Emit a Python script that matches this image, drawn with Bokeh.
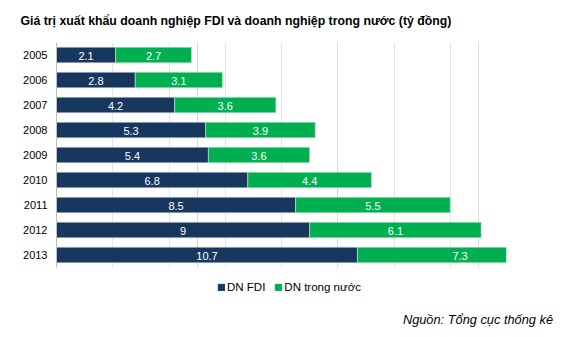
from bokeh.plotting import figure
from bokeh.layouts import column
from bokeh.models import (ColumnDataSource, FactorRange, Range1d, Legend, LegendItem,
                          FixedTicker, Grid, Div)
from bokeh.core.properties import value
from bokeh.embed import file_html
from bokeh.resources import INLINE

years = ["2005", "2006", "2007", "2008", "2009", "2010", "2011", "2012", "2013"]
fdi = [2.1, 2.8, 4.2, 5.3, 5.4, 6.8, 8.5, 9, 10.7]
domestic = [2.7, 3.1, 3.6, 3.9, 3.6, 4.4, 5.5, 6.1, 7.3]
series_names = ["DN FDI", "DN trong nước"]
title_text = "Giá trị xuất khẩu doanh nghiệp FDI và doanh nghiệp trong nước (tỷ đồng)"
source_text = "Nguồn: Tổng cục thống kê"
grid_ticks = [5, 10, 15]
x_max = 16

NAVY = "#17375E"
GREEN = "#00B050"
FONT = "Liberation Sans"
W = 565
H_TOP = 275
H_LEGEND = 25
H_SOURCE = 37

def fmt(v):
    return f"{v:g}"

src = ColumnDataSource(dict(
    year=years,
    fdi_end=fdi,
    dom_start=fdi,
    dom_end=[a + b for a, b in zip(fdi, domestic)],
    fdi_mid=[a / 2 for a in fdi],
    dom_mid=[a + b / 2 for a, b in zip(fdi, domestic)],
    fdi_lbl=[fmt(v) for v in fdi],
    dom_lbl=[fmt(v) for v in domestic],
))

p = figure(width=W, height=H_TOP, output_backend="svg", toolbar_location=None,
           y_range=FactorRange(factors=list(reversed(years)), range_padding=0),
           x_range=Range1d(0, x_max), x_axis_location=None,
           min_border_left=56, min_border_right=59, min_border_top=42, min_border_bottom=8)
p.outline_line_color = None
p.background_fill_color = "white"
p.border_fill_color = "white"

bar_style = dict(height=0.62, line_width=0.6)
p.hbar(y="year", left=0, right="fdi_end", source=src,
       fill_color=NAVY, line_color="#c9d1db", **bar_style)
p.hbar(y="year", left="dom_start", right="dom_end", source=src,
       fill_color=GREEN, line_color="#c9e8d4", **bar_style)

txt_style = dict(text_color="white", text_align="center", text_baseline="middle",
                 text_font=value(FONT), text_font_size="11px", y_offset=1)
p.text(x="fdi_mid", y="year", text="fdi_lbl", source=src, **txt_style)
p.text(x="dom_mid", y="year", text="dom_lbl", source=src, **txt_style)

p.add_layout(Grid(dimension=0, ticker=FixedTicker(ticks=grid_ticks),
                  grid_line_color="#d9d9d9", grid_line_width=1))
p.ygrid.visible = False

yax = p.yaxis[0]
yax.axis_line_color = "#bfbfbf"
yax.major_tick_line_color = None
yax.minor_tick_line_color = None
yax.major_tick_out = 0
yax.major_label_standoff = 9
yax.major_label_text_font = FONT
yax.major_label_text_font_size = "11px"
yax.major_label_text_color = "black"

p.title.text = title_text
p.title.text_font = FONT
p.title.text_font_size = "12.3px"
p.title.text_font_style = "bold"
p.title.align = "left"
p.title.offset = -36
p.title.vertical_align = "top"
p.title.standoff = 26
p.title.text_color = "black"

# legend strip (its frame is aligned with the chart frame by the column layout)
q = figure(width=W, height=H_LEGEND, output_backend="svg", toolbar_location=None,
           x_range=Range1d(0, x_max),
           y_range=FactorRange(factors=list(reversed(years)), range_padding=0),
           x_axis_location=None, y_axis_location=None,
           min_border_left=0, min_border_right=0, min_border_top=0, min_border_bottom=0)
q.outline_line_color = None
q.xgrid.visible = False
q.ygrid.visible = False
q.border_fill_color = "white"
k1 = q.hbar(y="year", left=0, right="fdi_end", height=0.62, source=src,
            fill_color=NAVY, line_color=NAVY, visible=False)
k2 = q.hbar(y="year", left="dom_start", right="dom_end", height=0.62, source=src,
            fill_color=GREEN, line_color=GREEN, visible=False)

legend = Legend(items=[LegendItem(label=series_names[0], renderers=[k1]),
                       LegendItem(label=series_names[1], renderers=[k2])],
                location=(161, 7), orientation="horizontal",
                glyph_width=8, glyph_height=8, label_height=12, label_standoff=2,
                spacing=9, padding=0, margin=0, border_line_color=None,
                background_fill_alpha=0, inactive_fill_alpha=0,
                label_text_font=FONT,
                label_text_font_size="11.5px", label_text_color="black")
q.add_layout(legend, "center")

note = Div(text=('<div style="width:553px;text-align:right;'
                 'font-family:\'Liberation Sans\',Arial,sans-serif;'
                 'font-size:12.8px;font-style:italic;color:#000;line-height:14px;'
                 'padding-top:13px;">' + source_text + '</div>'),
           width=W, height=H_SOURCE, margin=0)

layout = column(p, q, note, spacing=0)
open("out.html", "w").write(file_html(layout, INLINE))
